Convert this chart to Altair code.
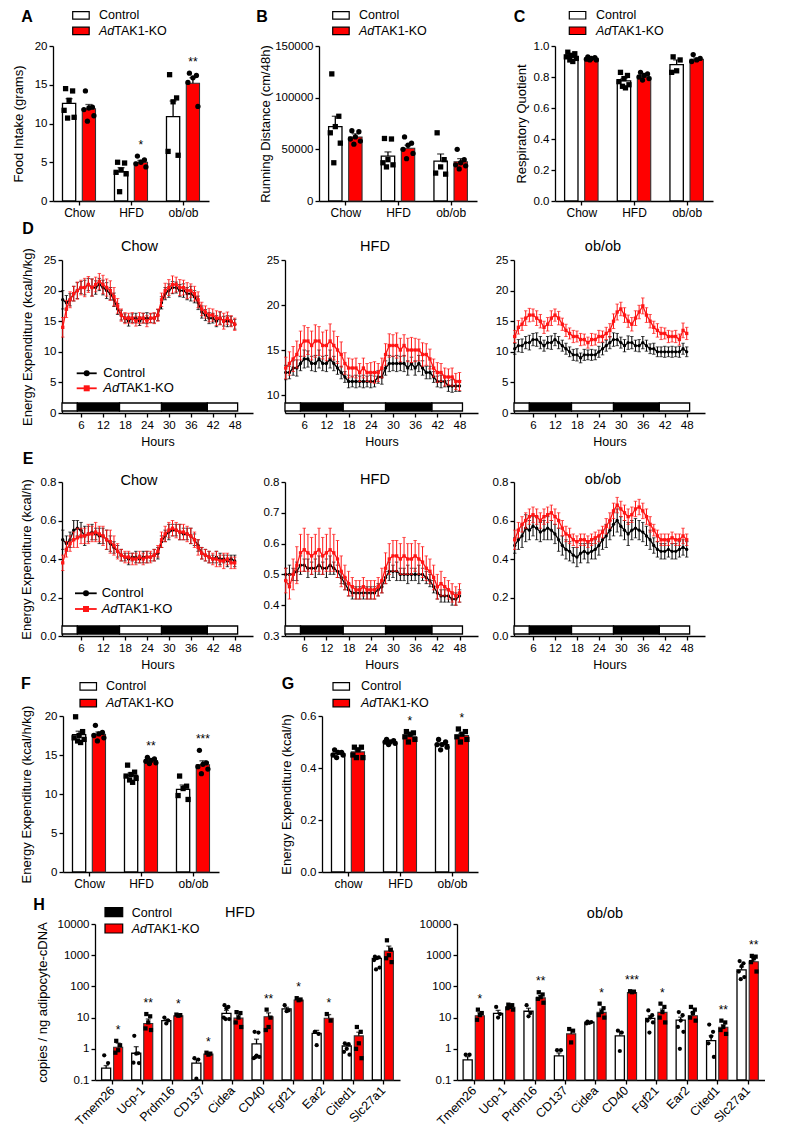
import altair as alt
import pandas as pd

FONT = "Liberation Sans"
RED = "#ff0000"
LRED = "#ff1414"

# ------------------------------------------------------------------ data
DIETS = ["Chow", "HFD", "ob/ob"]
DIETS_G = ["chow", "HFD", "ob/ob"]

# A  food intake (grams)
A_ctrl_mean = [12.6, 3.8, 10.9]
A_ctrl_sem = [0.6, 0.5, 2.0]
A_ko_mean = [11.9, 5.0, 15.2]
A_ko_sem = [0.55, 0.25, 0.7]
A_ctrl_pts = [[14.5, 14.2, 13.0, 11.7, 10.8, 10.7], [5.0, 4.9, 4.0, 3.7, 3.5, 1.2], [16.3, 13.3, 12.8, 6.4, 5.9]]
A_ko_pts = [[14.2, 12.1, 12.0, 11.8, 11.0, 10.3], [5.8, 5.3, 5.0, 4.8, 4.4], [16.5, 16.2, 15.9, 15.3, 12.2]]
A_stars = ["", "*", "**"]

# B  running distance (cm/48h)
B_ctrl_mean = [72000, 43500, 38500]
B_ctrl_sem = [10000, 4000, 7000]
B_ko_mean = [62000, 51000, 38000]
B_ko_sem = [3000, 3000, 3000]
B_ctrl_pts = [[123000, 82000, 72000, 66000, 56000, 37000], [60500, 60000, 40000, 37000, 35000, 33000],
              [66000, 40000, 33000, 27000, 26000]]
B_ko_pts = [[68000, 67000, 62000, 60000, 58000, 55000], [62000, 56000, 54000, 50000, 46000, 41000],
            [50000, 40000, 37000, 35000, 34000, 31000]]
B_stars = ["", "", ""]

# C  respiratory quotient
C_ctrl_mean = [0.93, 0.775, 0.88]
C_ctrl_sem = [0.01, 0.015, 0.03]
C_ko_mean = [0.92, 0.80, 0.915]
C_ko_sem = [0.005, 0.008, 0.008]
C_ctrl_pts = [[0.96, 0.95, 0.94, 0.93, 0.92, 0.91, 0.90], [0.83, 0.81, 0.79, 0.77, 0.75, 0.74, 0.73],
              [0.93, 0.91, 0.84, 0.83]]
C_ko_pts = [[0.93, 0.925, 0.92, 0.915, 0.91, 0.91], [0.83, 0.82, 0.81, 0.80, 0.79, 0.78], [0.945, 0.92, 0.91, 0.90]]
C_stars = ["", "", ""]

# F  energy expenditure (kcal/h/kg)
F_ctrl_mean = [17.6, 12.4, 10.6]
F_ctrl_sem = [0.45, 0.3, 0.55]
F_ko_mean = [17.65, 14.3, 13.75]
F_ko_sem = [0.3, 0.15, 0.5]
F_ctrl_pts = [[19.9, 18.0, 17.5, 17.2, 17.0, 16.8, 16.6], [13.7, 12.8, 12.5, 12.3, 12.0, 11.8, 11.5],
              [12.3, 11.0, 10.7, 9.8, 9.3]]
F_ko_pts = [[18.8, 17.9, 17.7, 17.5, 17.2, 16.8], [14.7, 14.5, 14.3, 14.2, 14.0, 13.9],
            [15.6, 14.0, 13.8, 13.5, 13.2, 12.6]]
F_stars = ["", "**", "***"]

# G  energy expenditure (kcal/h)
G_ctrl_mean = [0.455, 0.50, 0.49]
G_ctrl_sem = [0.004, 0.003, 0.006]
G_ko_mean = [0.462, 0.52, 0.525]
G_ko_sem = [0.007, 0.006, 0.008]
G_ctrl_pts = [[0.47, 0.46, 0.46, 0.45, 0.45, 0.44], [0.51, 0.505, 0.50, 0.50, 0.495, 0.49],
              [0.51, 0.50, 0.49, 0.49, 0.48, 0.47]]
G_ko_pts = [[0.48, 0.48, 0.47, 0.45, 0.44, 0.44], [0.54, 0.535, 0.53, 0.52, 0.51, 0.50],
            [0.55, 0.54, 0.53, 0.52, 0.51, 0.50]]
G_stars = ["", "*", "*"]

# D / E  time courses (hourly means and SEM)
HOURS = list(range(1, 49))
LD_START = [0.8, 5.0, 16.5, 28.0, 40.5]
LD_END = [5.0, 16.5, 28.0, 40.5, 48.8]
LD_DARK = [0, 1, 0, 1, 0]

D_chow_ctrl = [18.5, 18.0, 18.5, 19.5, 20.0, 20.5, 20.5, 21.0, 20.5, 20.5, 21.0, 20.5, 20.0, 19.5, 18.5, 17.0,
               16.0, 15.5, 15.0, 15.5, 15.5, 15.0, 15.5, 15.5, 15.5, 15.5, 16.0, 18.0, 19.5, 20.0, 20.5, 20.5,
               20.0, 20.0, 19.5, 19.5, 19.0, 18.0, 16.5, 16.0, 15.5, 15.5, 15.0, 15.5, 15.0, 15.0, 15.0, 14.5]
D_chow_ctrl_sem = [1.5, 1.2, 1.0, 1.2, 1.3, 1.0, 1.2, 1.0, 1.4, 1.1, 1.0, 1.2, 1.3, 1.0, 1.1, 0.9, 0.8, 0.7,
                   0.8, 0.7, 0.8, 0.7, 0.8, 0.9, 0.7, 0.8, 0.9, 1.0, 1.0, 1.1, 1.0, 0.9, 1.0, 1.1, 1.0, 1.2,
                   1.0, 1.1, 1.0, 0.9, 0.9, 0.8, 0.9, 1.0, 0.8, 0.9, 0.8, 0.8]
D_chow_ko = [14.0, 17.0, 18.5, 19.5, 20.0, 20.5, 20.5, 21.0, 20.5, 21.0, 21.5, 21.0, 20.5, 20.0, 19.0, 17.5,
             16.0, 15.5, 15.5, 15.5, 15.0, 15.5, 15.5, 15.0, 15.5, 15.5, 16.0, 18.5, 20.0, 20.5, 21.0, 21.0,
             20.5, 20.5, 20.0, 20.0, 19.5, 18.5, 17.0, 16.5, 16.0, 16.0, 15.5, 15.5, 15.0, 15.5, 15.0, 14.5]
D_chow_ko_sem = [1.6, 1.4, 1.3, 1.2, 1.4, 1.2, 1.5, 1.3, 1.4, 1.2, 1.3, 1.5, 1.4, 1.6, 1.5, 1.2, 1.0, 0.9,
                 0.8, 0.9, 0.8, 0.9, 0.8, 0.9, 0.8, 0.9, 1.0, 1.1, 1.2, 1.3, 1.4, 1.2, 1.3, 1.2, 1.3, 1.1,
                 1.2, 1.3, 1.1, 1.0, 1.1, 1.0, 1.2, 1.1, 1.3, 1.0, 0.9, 1.0]

D_hfd_ctrl = [12.5, 12.5, 13.0, 13.0, 13.5, 14.0, 14.0, 13.5, 13.5, 14.0, 13.5, 13.5, 14.0, 13.5, 13.0, 12.5,
              12.0, 11.5, 11.5, 11.5, 11.5, 11.5, 11.5, 11.5, 11.5, 12.0, 12.0, 13.0, 13.5, 13.5, 13.5, 13.5,
              13.5, 13.0, 13.5, 13.0, 13.5, 13.0, 12.5, 12.5, 12.0, 11.5, 11.5, 11.5, 11.0, 11.0, 11.0, 11.0]
D_hfd_ctrl_sem = [0.8, 0.7, 0.8, 0.9, 0.8, 1.0, 0.9, 0.8, 0.9, 1.0, 0.8, 0.9, 1.0, 0.8, 0.7, 0.7, 0.6, 0.7,
                  0.6, 0.7, 0.6, 0.7, 0.6, 0.7, 0.6, 0.7, 0.8, 0.8, 0.9, 0.8, 0.9, 0.8, 0.9, 0.8, 0.7, 0.8,
                  0.9, 0.8, 0.7, 0.7, 0.6, 0.6, 0.7, 0.6, 0.6, 0.7, 0.6, 0.6]
D_hfd_ko = [13.0, 13.5, 14.0, 14.5, 15.5, 16.0, 16.0, 15.5, 16.0, 16.0, 15.5, 15.5, 16.0, 15.5, 15.0, 14.5,
            13.5, 13.0, 13.0, 13.0, 12.5, 13.0, 12.5, 12.5, 12.5, 12.5, 13.0, 14.5, 15.5, 15.5, 15.5, 15.0,
            15.5, 15.0, 15.0, 15.0, 15.0, 14.5, 14.5, 14.0, 13.0, 12.5, 12.5, 12.0, 12.0, 12.0, 11.5, 11.5]
D_hfd_ko_sem = [1.2, 1.3, 1.4, 1.5, 1.6, 1.7, 1.5, 1.6, 1.8, 1.6, 1.5, 1.7, 1.9, 1.6, 1.5, 1.4, 1.2, 1.1,
                1.0, 1.1, 1.0, 1.1, 1.0, 1.1, 1.2, 1.0, 1.1, 1.2, 1.3, 1.2, 1.4, 1.3, 1.2, 1.3, 1.4, 1.3,
                1.2, 1.3, 1.2, 1.1, 1.0, 1.1, 1.0, 1.0, 0.9, 1.0, 0.9, 1.0]

D_ob_ctrl = [10.5, 11.0, 11.0, 11.5, 11.5, 12.0, 12.0, 11.5, 11.0, 11.5, 11.5, 12.0, 11.5, 11.0, 10.5, 10.0,
             9.5, 9.5, 9.0, 9.5, 9.5, 9.5, 9.5, 10.0, 10.5, 11.0, 11.5, 12.0, 12.0, 11.5, 11.0, 11.5,
             11.5, 11.0, 11.0, 11.5, 11.0, 10.5, 10.5, 10.0, 10.0, 10.0, 10.0, 10.0, 10.0, 10.0, 10.5, 10.0]
D_ob_ctrl_sem = [0.9, 1.0, 1.1, 1.0, 1.2, 1.0, 1.1, 1.0, 0.9, 1.0, 1.1, 1.0, 1.0, 0.9, 0.9, 0.8, 0.9, 1.0,
                 0.8, 0.9, 0.8, 0.9, 0.8, 0.9, 1.0, 0.9, 1.0, 1.1, 1.0, 0.9, 1.0, 1.1, 1.0, 0.9, 1.0, 1.0,
                 0.9, 0.8, 0.9, 0.8, 0.8, 0.9, 0.8, 0.9, 0.8, 0.9, 0.9, 0.8]
D_ob_ko = [12.5, 14.0, 14.5, 15.5, 16.0, 16.0, 15.5, 15.0, 14.0, 14.5, 15.5, 16.0, 15.5, 14.5, 13.5, 13.0,
           12.5, 12.5, 12.0, 12.0, 11.5, 12.0, 12.0, 12.5, 12.5, 13.0, 13.5, 15.0, 16.5, 17.0, 16.0, 15.0,
           14.5, 15.5, 16.5, 17.5, 16.0, 15.0, 14.0, 13.5, 13.0, 13.0, 12.5, 12.5, 12.5, 12.0, 13.5, 13.0]
D_ob_ko_sem = [1.0, 1.1, 1.0, 1.2, 1.1, 1.0, 1.2, 1.1, 1.0, 1.1, 1.2, 1.0, 1.1, 1.0, 1.0, 0.9, 1.0, 0.9,
               1.0, 0.9, 0.9, 1.0, 0.9, 1.0, 0.9, 1.0, 1.1, 1.2, 1.3, 1.1, 1.2, 1.0, 1.1, 1.2, 1.1, 1.3,
               1.2, 1.1, 1.0, 1.1, 1.0, 0.9, 1.0, 0.9, 1.0, 0.9, 1.2, 1.0]

E_chow_ctrl = [0.50, 0.48, 0.50, 0.55, 0.56, 0.55, 0.52, 0.53, 0.54, 0.53, 0.52, 0.52, 0.50, 0.48, 0.46, 0.44,
               0.42, 0.41, 0.40, 0.41, 0.41, 0.40, 0.41, 0.41, 0.41, 0.42, 0.43, 0.49, 0.52, 0.54, 0.55, 0.55,
               0.54, 0.53, 0.53, 0.52, 0.50, 0.47, 0.43, 0.42, 0.41, 0.40, 0.41, 0.40, 0.40, 0.39, 0.40, 0.39]
E_chow_ctrl_sem = [0.05, 0.04, 0.04, 0.05, 0.04, 0.04, 0.05, 0.04, 0.04, 0.03, 0.04, 0.04, 0.05, 0.04, 0.03,
                   0.03, 0.03, 0.02, 0.03, 0.02, 0.03, 0.02, 0.03, 0.03, 0.02, 0.03, 0.03, 0.03, 0.03, 0.04,
                   0.03, 0.03, 0.04, 0.03, 0.03, 0.04, 0.03, 0.03, 0.03, 0.03, 0.03, 0.02, 0.03, 0.03, 0.02,
                   0.03, 0.02, 0.03]
E_chow_ko = [0.38, 0.45, 0.48, 0.50, 0.51, 0.52, 0.52, 0.53, 0.53, 0.54, 0.53, 0.52, 0.50, 0.49, 0.47, 0.44,
             0.42, 0.41, 0.41, 0.40, 0.40, 0.41, 0.40, 0.41, 0.41, 0.42, 0.44, 0.50, 0.53, 0.55, 0.56, 0.55,
             0.54, 0.54, 0.53, 0.52, 0.50, 0.46, 0.43, 0.42, 0.41, 0.40, 0.40, 0.39, 0.39, 0.40, 0.38, 0.38]
E_chow_ko_sem = [0.04, 0.04, 0.04, 0.04, 0.05, 0.04, 0.04, 0.05, 0.04, 0.05, 0.04, 0.05, 0.05, 0.06, 0.05,
                 0.04, 0.03, 0.03, 0.03, 0.03, 0.03, 0.03, 0.03, 0.03, 0.03, 0.03, 0.03, 0.04, 0.04, 0.04,
                 0.04, 0.04, 0.04, 0.04, 0.04, 0.04, 0.04, 0.04, 0.03, 0.03, 0.03, 0.03, 0.04, 0.03, 0.04,
                 0.03, 0.03, 0.03]

E_hfd_ctrl = [0.50, 0.50, 0.50, 0.51, 0.53, 0.53, 0.52, 0.52, 0.52, 0.53, 0.52, 0.52, 0.53, 0.52, 0.51, 0.49,
              0.47, 0.45, 0.44, 0.44, 0.44, 0.44, 0.44, 0.44, 0.44, 0.45, 0.46, 0.49, 0.51, 0.51, 0.51, 0.50,
              0.50, 0.50, 0.50, 0.50, 0.50, 0.50, 0.49, 0.48, 0.46, 0.44, 0.43, 0.43, 0.43, 0.42, 0.42, 0.43]
E_hfd_ctrl_sem = [0.02, 0.03, 0.02, 0.03, 0.03, 0.02, 0.03, 0.02, 0.03, 0.03, 0.02, 0.03, 0.03, 0.02, 0.02,
                  0.02, 0.02, 0.02, 0.02, 0.02, 0.02, 0.02, 0.02, 0.02, 0.02, 0.02, 0.02, 0.02, 0.03, 0.02,
                  0.03, 0.02, 0.02, 0.03, 0.02, 0.02, 0.03, 0.02, 0.02, 0.02, 0.02, 0.02, 0.02, 0.02, 0.02,
                  0.02, 0.02, 0.02]
E_hfd_ko = [0.48, 0.46, 0.50, 0.53, 0.57, 0.58, 0.57, 0.56, 0.57, 0.58, 0.56, 0.57, 0.58, 0.57, 0.55, 0.51,
            0.49, 0.47, 0.46, 0.45, 0.45, 0.46, 0.45, 0.45, 0.45, 0.46, 0.48, 0.52, 0.55, 0.56, 0.56, 0.55,
            0.56, 0.55, 0.55, 0.56, 0.55, 0.54, 0.52, 0.51, 0.49, 0.46, 0.47, 0.46, 0.45, 0.44, 0.43, 0.44]
E_hfd_ko_sem = [0.04, 0.04, 0.05, 0.06, 0.06, 0.07, 0.06, 0.06, 0.06, 0.07, 0.06, 0.06, 0.07, 0.06, 0.06,
                0.05, 0.04, 0.04, 0.03, 0.03, 0.03, 0.03, 0.03, 0.03, 0.03, 0.03, 0.04, 0.05, 0.05, 0.05,
                0.05, 0.05, 0.06, 0.05, 0.05, 0.05, 0.05, 0.05, 0.04, 0.04, 0.04, 0.04, 0.04, 0.03, 0.03,
                0.03, 0.03, 0.03]

E_ob_ctrl = [0.47, 0.50, 0.52, 0.56, 0.55, 0.57, 0.56, 0.54, 0.55, 0.56, 0.55, 0.53, 0.50, 0.47, 0.45, 0.44,
             0.42, 0.41, 0.43, 0.44, 0.43, 0.44, 0.45, 0.47, 0.50, 0.52, 0.55, 0.58, 0.60, 0.57, 0.55, 0.53,
             0.55, 0.56, 0.55, 0.54, 0.52, 0.50, 0.47, 0.45, 0.44, 0.44, 0.45, 0.44, 0.44, 0.45, 0.46, 0.45]
E_ob_ctrl_sem = [0.04, 0.05, 0.06, 0.07, 0.05, 0.05, 0.06, 0.05, 0.05, 0.06, 0.05, 0.05, 0.06, 0.05, 0.05,
                 0.05, 0.04, 0.05, 0.05, 0.04, 0.05, 0.04, 0.05, 0.05, 0.05, 0.06, 0.05, 0.06, 0.06, 0.05,
                 0.05, 0.06, 0.05, 0.05, 0.05, 0.05, 0.05, 0.05, 0.04, 0.04, 0.04, 0.04, 0.04, 0.04, 0.04,
                 0.04, 0.04, 0.04]
E_ob_ko = [0.50, 0.55, 0.58, 0.60, 0.62, 0.63, 0.62, 0.60, 0.62, 0.63, 0.64, 0.62, 0.60, 0.56, 0.53, 0.52,
           0.50, 0.49, 0.50, 0.50, 0.49, 0.50, 0.51, 0.52, 0.54, 0.57, 0.60, 0.65, 0.68, 0.66, 0.64, 0.62,
           0.63, 0.66, 0.67, 0.65, 0.62, 0.58, 0.55, 0.52, 0.50, 0.50, 0.50, 0.51, 0.50, 0.50, 0.52, 0.50]
E_ob_ko_sem = [0.05, 0.04, 0.04, 0.04, 0.04, 0.04, 0.04, 0.04, 0.04, 0.04, 0.04, 0.04, 0.04, 0.04, 0.04,
               0.04, 0.03, 0.03, 0.03, 0.03, 0.03, 0.03, 0.03, 0.03, 0.03, 0.04, 0.04, 0.04, 0.04, 0.04,
               0.04, 0.04, 0.04, 0.04, 0.04, 0.04, 0.04, 0.04, 0.03, 0.03, 0.03, 0.03, 0.03, 0.03, 0.03,
               0.03, 0.04, 0.03]

# H  gene expression (copies / ng adipocyte-cDNA)
GENES = ["Tmem26", "Ucp-1", "Prdm16", "CD137", "Cidea", "CD40", "Fgf21", "Ear2", "Cited1", "Slc27a1"]
H_hfd_ctrl_mean = [0.24, 0.72, 8.0, 0.35, 13.6, 1.43, 18.9, 3.1, 1.23, 790]
H_hfd_ctrl_sem = [0.05, 0.45, 1.0, 0.1, 3.5, 0.6, 2.5, 0.8, 0.2, 90]
H_hfd_ko_mean = [1.12, 6.5, 11.5, 0.68, 9.6, 10.7, 36.7, 9.5, 2.6, 1360]
H_hfd_ko_sem = [0.4, 2.5, 0.5, 0.05, 2.5, 3.5, 2.5, 3.0, 0.8, 600]
H_hfd_ctrl_pts = [[0.62, 0.35], [2.6, 0.72, 0.7, 0.36, 0.35], [10, 8, 6.5], [0.5, 0.45, 0.11],
                  [25, 22, 20, 10, 9, 9], [3.5, 3.3, 0.6, 0.5, 0.55, 0.55], [25, 17, 16], [3.5, 3.0, 1.3],
                  [1.5, 1.4, 1.0, 0.8, 0.65], [900, 850, 800, 700, 400, 350]]
H_hfd_ko_pts = [[1.8, 1.3, 0.9, 0.75], [13, 11, 7, 4.5, 4], [12.5, 12, 11.5], [0.75, 0.7, 0.65],
                [15, 14, 10, 7, 5], [18, 10, 5, 4], [42, 38, 36], [13, 8], [5, 3.5, 1.5, 1.0, 0.5],
                [3000, 1500, 1000, 800, 600]]
H_hfd_stars = ["*", "**", "*", "*", "", "**", "*", "*", "", ""]

H_ob_ctrl_mean = [0.44, 13.6, 16, 0.59, 7.1, 2.6, 9.5, 8.3, 1.82, 340]
H_ob_ctrl_sem = [0.12, 3.5, 4, 0.15, 0.3, 1.0, 2.0, 2.0, 0.8, 80]
H_ob_ko_mean = [11.5, 21.5, 43, 3.0, 14.7, 63, 14.7, 11.5, 4.9, 620]
H_ob_ko_sem = [3.0, 1.5, 8, 0.9, 4.0, 3, 4.0, 3.0, 1.0, 150]
H_ob_ctrl_pts = [[0.65, 0.65], [22, 13, 10], [25, 14, 11], [0.9, 0.9], [7.5, 7.2, 6.8, 6.5], [3.8, 3.3, 0.85],
                 [17, 12, 10, 8, 7, 3.3], [15, 12, 8, 5, 3.5, 1.0], [6, 3.5, 2.5, 1.5, 0.55],
                 [650, 550, 450, 300, 200, 170]]
H_ob_ko_pts = [[18, 14, 12, 8.5], [26, 25, 22, 20, 18], [65, 55, 45, 40, 30], [4.3, 3.8, 1.6],
               [28, 20, 15, 12, 10], [70, 68, 65], [28, 22, 15, 10, 7], [22, 18, 14, 10, 8], [8, 7, 5, 4, 3],
               [950, 900, 800, 600, 300]]
H_ob_stars = ["*", "", "**", "", "*", "***", "*", "", "**", "**"]


# ------------------------------------------------------------------ helpers
def one():
    return pd.DataFrame({"k": [0]})


def text_mark(s, x, y, size=12, weight="normal", style="normal", align="left", baseline="middle"):
    return alt.Chart(one()).mark_text(text=s, font=FONT, fontSize=size, fontWeight=weight, fontStyle=style,
                                      align=align, baseline=baseline, color="black").encode(
        x=alt.value(x), y=alt.value(y))


def letter(s, x, y):
    return text_mark(s, x, y, 16, weight="bold", align="center")


def rect_mark(x, y, w, h, fill, stroke, sw=1.2):
    return alt.Chart(one()).mark_rect(fill=fill, stroke=stroke, strokeWidth=sw).encode(
        x=alt.value(x), x2=alt.value(x + w), y=alt.value(y), y2=alt.value(y + h))


def ko_label(x, y, size):
    return [text_mark("Ad", x, y, size, style="italic"), text_mark("TAK1-KO", x + 1.223 * size, y, size)]


def bar_legend(bx, tx, b1, b2, t1, t2, size=12.5, ctrl_fill="white", bw=16.5, bh=7.5):
    out = [rect_mark(bx, b1, bw, bh, ctrl_fill, "black"), rect_mark(bx, b2, bw, bh, RED, "black"),
           text_mark("Control", tx, t1, size)]
    return out + ko_label(tx, t2, size)


def ts_legend(lx1, lx2, mx, tx, y1, y2, size=13):
    out = []
    for y, col, shp in [(y1, "black", "circle"), (y2, LRED, "square")]:
        out.append(alt.Chart(one()).mark_rule(color=col, strokeWidth=1.8).encode(
            x=alt.value(lx1), x2=alt.value(lx2), y=alt.value(y)))
        out.append(alt.Chart(one()).mark_point(shape=shp, filled=True, size=36, color=col, opacity=1).encode(
            x=alt.value(mx), y=alt.value(y)))
    out.append(text_mark("Control", tx, y1, size))
    return out + ko_label(tx, y2, size)


def spacer(w, h, top=0):
    return alt.Chart(one()).mark_rule(strokeOpacity=0, opacity=0).encode(
        x=alt.value(0), y=alt.value(-top), y2=alt.value(0 if top else 1)).properties(width=w, height=h)


JIT = [-3.5, 3.5, 0.0, -5.0, 5.0, -1.5, 1.5]


def bar_panel(cats, cm, cs, km, ks, cp, kp, stars, w, h, ydom, yvals, yfmt, ytitle, title_x,
              xdom=None, half=0.3175, inner=0.0635, log=False, shapes=("square", "circle"),
              jit=1.0, psize=28, cap=7, label_angle=0, extra=()):
    n = len(cats)
    if xdom is None:
        xdom = [-0.5, n - 0.5]
    ppu = w / (xdom[1] - xdom[0])
    bars, pts, st = [], [], []
    for i in range(n):
        cx = i - (half + inner) / 2
        kx = i + (half + inner) / 2
        bars.append(dict(grp="c", xl=i - half, xr=i - inner, xc=cx, mean=cm[i], hi=cm[i] + cs[i]))
        bars.append(dict(grp="k", xl=i + inner, xr=i + half, xc=kx, mean=km[i], hi=km[i] + ks[i]))
        for j, v in enumerate(cp[i]):
            pts.append(dict(grp="c", x=cx + JIT[j % 7] * jit / ppu, v=v))
        for j, v in enumerate(kp[i]):
            pts.append(dict(grp="k", x=kx + JIT[j % 7] * jit / ppu, v=v))
        if stars[i]:
            st.append(dict(x=kx, v=max(max(kp[i]), km[i] + ks[i]), s=stars[i]))
    bars = pd.DataFrame(bars)
    pts = pd.DataFrame(pts)
    lab = "[" + ",".join("'%s'" % c for c in cats) + "][round(datum.value)]"
    xs = alt.Scale(domain=xdom, nice=False, zero=False)
    if label_angle:
        xa = alt.Axis(title=None, values=list(range(n)), labelExpr=lab, labelAngle=label_angle,
                      labelAlign="right", labelBaseline="middle", labelPadding=4, labelFontSize=12.5)
    else:
        xa = alt.Axis(title=None, values=list(range(n)), labelExpr=lab, labelAngle=0, labelFontSize=12)
    ys = alt.Scale(domain=ydom, nice=False, zero=False, type="log" if log else "linear")
    if ytitle:
        ya = alt.Axis(values=yvals, format=yfmt, title=ytitle, titleX=title_x, titleY=h / 2, titleAngle=270,
                      titleAlign="center", titleBaseline="middle")
    else:
        ya = alt.Axis(values=yvals, format=yfmt, title=None)

    def X(f):
        return alt.X(f, type="quantitative", scale=xs, axis=xa)

    def Y(f):
        return alt.Y(f, type="quantitative", scale=ys, axis=ya)

    b = alt.Chart(bars)
    layers = [
        b.transform_filter("datum.grp == 'c'").mark_rect(fill="white", stroke="black", strokeWidth=1.3).encode(
            x=X("xl"), x2="xr", y=Y("mean"), y2=alt.datum(ydom[0])),
        b.transform_filter("datum.grp == 'k'").mark_rect(fill=RED, stroke="#333333", strokeWidth=1.1).encode(
            x=X("xl"), x2="xr", y=Y("mean"), y2=alt.datum(ydom[0])),
        b.mark_rule(color="black", strokeWidth=1.3).encode(x=X("xc"), y=Y("mean"), y2="hi"),
        b.mark_tick(color="black", orient="horizontal", size=cap, thickness=1.3).encode(x=X("xc"), y=Y("hi")),
    ]
    p = alt.Chart(pts)
    for g, shp in zip(["c", "k"], shapes):
        layers.append(p.transform_filter("datum.grp == '%s'" % g).mark_point(
            shape=shp, filled=True, size=psize, color="black", opacity=1).encode(x=X("x"), y=Y("v")))
    if st:
        layers.append(alt.Chart(pd.DataFrame(st)).mark_text(
            font=FONT, fontSize=12, baseline="bottom", align="center", dy=-4, color="black").encode(
            x=X("x"), y=Y("v"), text="s:N"))
    layers += list(extra)
    return alt.layer(*layers).properties(width=w, height=h)


XDOM = [0.8, 53.0]


def ts_panel(ctrl, csem, ko, ksem, w, h, ydom, yvals, yfmt, ytitle, title_x, title, tpos, extra=()):
    xs = alt.Scale(domain=XDOM, nice=False, zero=False)
    xa = alt.Axis(values=[6, 12, 18, 24, 30, 36, 42, 48], title="Hours", titlePadding=5, titleFontSize=12.5)
    ys = alt.Scale(domain=ydom, nice=False, zero=False)
    if ytitle:
        ya = alt.Axis(values=yvals, format=yfmt, title=ytitle, titleX=title_x, titleY=h / 2, titleAngle=270,
                      titleAlign="center", titleBaseline="middle")
    else:
        ya = alt.Axis(values=yvals, format=yfmt, title=None)

    def X(f):
        return alt.X(f, type="quantitative", scale=xs, axis=xa)

    def Y(f):
        return alt.Y(f, type="quantitative", scale=ys, axis=ya)

    ld = alt.Chart(pd.DataFrame({"s": LD_START, "e": LD_END, "d": LD_DARK}))
    layers = []
    for dark, fill in [(0, "white"), (1, "black")]:
        layers.append(ld.transform_filter("datum.d == %d" % dark).mark_rect(
            fill=fill, stroke="black", strokeWidth=1.3).encode(
            x=X("s"), x2="e", y=alt.value(h - 10), y2=alt.value(h - 2)))
    for vals, sems, col, shp in [(ctrl, csem, "black", "circle"), (ko, ksem, LRED, "square")]:
        df = pd.DataFrame({"hour": HOURS, "val": vals,
                           "lo": [v - s for v, s in zip(vals, sems)],
                           "hi": [v + s for v, s in zip(vals, sems)]})
        c = alt.Chart(df)
        layers += [
            c.mark_rule(color=col, strokeWidth=1).encode(x=X("hour"), y=Y("lo"), y2="hi"),
            c.mark_tick(color=col, orient="horizontal", size=3.5, thickness=1).encode(x=X("hour"), y=Y("hi")),
            c.mark_tick(color=col, orient="horizontal", size=3.5, thickness=1).encode(x=X("hour"), y=Y("lo")),
            c.mark_line(color=col, strokeWidth=1.3).encode(x=X("hour"), y=Y("val")),
            c.mark_point(shape=shp, filled=True, size=11, color=col, opacity=1).encode(x=X("hour"), y=Y("val")),
        ]
    layers.append(text_mark(title, tpos[0], tpos[1], 14.5, align="center"))
    layers += list(extra)
    return alt.layer(*layers).properties(width=w, height=h)


# ------------------------------------------------------------------ panels
pA = bar_panel(DIETS, A_ctrl_mean, A_ctrl_sem, A_ko_mean, A_ko_sem, A_ctrl_pts, A_ko_pts, A_stars,
               156, 155, [0, 20], [0, 5, 10, 15, 20], "d", "Food Intake (grams)", -35,
               extra=bar_legend(19.7, 46, -34.3, -18.8, -31, -15) + [letter("A", -26, -29)])
pB = bar_panel(DIETS, B_ctrl_mean, B_ctrl_sem, B_ko_mean, B_ko_sem, B_ctrl_pts, B_ko_pts, B_stars,
               158, 155, [0, 150000], [0, 50000, 100000, 150000], "d", "Running Distance (cm/48h)", -53.5,
               extra=bar_legend(13.7, 40, -34.3, -18.8, -31, -15) + [letter("B", -57, -29)])
pC = bar_panel(DIETS, C_ctrl_mean, C_ctrl_sem, C_ko_mean, C_ko_sem, C_ctrl_pts, C_ko_pts, C_stars,
               158, 155, [0, 1.0], [0, 0.2, 0.4, 0.6, 0.8, 1.0], ".1f", "Respiratory Quotient", -34,
               extra=bar_legend(14.3, 41, -34.5, -19, -31, -15) + [letter("C", -35.5, -29)])

pDc = ts_panel(D_chow_ctrl, D_chow_ctrl_sem, D_chow_ko, D_chow_ko_sem, 191, 153, [0, 25],
               [0, 5, 10, 15, 20, 25], "d", "Energy Expenditure (kcal/h/kg)", -35, "Chow", (77.5, -13),
               extra=ts_legend(14.7, 34.7, 24.7, 41.3, 113.3, 128.3) + [letter("D", -34, -31)])
pDh = ts_panel(D_hfd_ctrl, D_hfd_ctrl_sem, D_hfd_ko, D_hfd_ko_sem, 193, 153, [8, 25],
               [10, 15, 20, 25], "d", None, 0, "HFD", (90, -13))
pDo = ts_panel(D_ob_ctrl, D_ob_ctrl_sem, D_ob_ko, D_ob_ko_sem, 191, 153, [0, 25],
               [0, 5, 10, 15, 20, 25], "d", None, 0, "ob/ob", (89, -13))

pEc = ts_panel(E_chow_ctrl, E_chow_ctrl_sem, E_chow_ko, E_chow_ko_sem, 191, 154, [0, 0.8],
               [0, 0.2, 0.4, 0.6, 0.8], ".1f", "Energy Expenditure (kcal/h)", -36, "Chow", (77, -1),
               extra=ts_legend(13, 34.7, 24, 39.7, 111.3, 127) + [letter("E", -34, -23)])
pEh = ts_panel(E_hfd_ctrl, E_hfd_ctrl_sem, E_hfd_ko, E_hfd_ko_sem, 193, 154, [0.3, 0.8],
               [0.3, 0.4, 0.5, 0.6, 0.7, 0.8], ".1f", None, 0, "HFD", (90, -2))
pEo = ts_panel(E_ob_ctrl, E_ob_ctrl_sem, E_ob_ko, E_ob_ko_sem, 191, 154, [0, 0.8],
               [0, 0.2, 0.4, 0.6, 0.8], ".1f", None, 0, "ob/ob", (89, -2))

pF = bar_panel(DIETS, F_ctrl_mean, F_ctrl_sem, F_ko_mean, F_ko_sem, F_ctrl_pts, F_ko_pts, F_stars,
               156, 156, [0, 20], [0, 5, 10, 15, 20], "d", "Energy Expenditure (kcal/h/kg)", -37,
               extra=bar_legend(17, 43, -33.3, -16.7, -30, -13.3) + [letter("F", -37, -32)])
pG = bar_panel(DIETS_G, G_ctrl_mean, G_ctrl_sem, G_ko_mean, G_ko_sem, G_ctrl_pts, G_ko_pts, G_stars,
               156, 156, [0, 0.6], [0, 0.2, 0.4, 0.6], ".1f", "Energy Expenditure (kcal/h)", -36,
               shapes=("circle", "square"),
               extra=bar_legend(11, 39, -33.3, -16.7, -30, -13.3) + [letter("G", -34, -32)])

pHh = bar_panel(GENES, H_hfd_ctrl_mean, H_hfd_ctrl_sem, H_hfd_ko_mean, H_hfd_ko_sem, H_hfd_ctrl_pts,
                H_hfd_ko_pts, H_hfd_stars, 305, 156, [0.1, 10000], [0.1, 1, 10, 100, 1000, 10000], "~g",
                "copies / ng adipocyte-cDNA", -53, xdom=[-0.57, 9.57], half=0.35, inner=0.05, log=True,
                shapes=("circle", "square"), jit=0.55, psize=18, cap=5, label_angle=315,
                extra=bar_legend(10, 36.7, -16.3, 0, -11.3, 5, ctrl_fill="black", bw=17.7, bh=9)
                + [text_mark("HFD", 145, -11, 14.5, align="center"), letter("H", -56, -19)])
pHo = bar_panel(GENES, H_ob_ctrl_mean, H_ob_ctrl_sem, H_ob_ko_mean, H_ob_ko_sem, H_ob_ctrl_pts,
                H_ob_ko_pts, H_ob_stars, 308, 156, [0.1, 10000], [0.1, 1, 10, 100, 1000, 10000], "~g",
                None, 0, xdom=[-0.55, 9.57], half=0.35, inner=0.05, log=True,
                shapes=("circle", "square"), jit=0.55, psize=18, cap=5, label_angle=315,
                extra=[text_mark("ob/ob", 148, -10, 14.5, align="center")])

# ------------------------------------------------------------------ layout
row1 = alt.hconcat(spacer(45, 174, 38), pA, spacer(110, 1), pB, spacer(78, 1), pC, spacing=0, bounds="flush")
rowD = alt.hconcat(spacer(54, 190, 40), pDc, spacer(32, 1), pDh, spacer(36, 1), pDo, spacing=0, bounds="flush")
rowE = alt.hconcat(spacer(54, 190, 32), pEc, spacer(32, 1), pEh, spacer(36, 1), pEo, spacing=0, bounds="flush")
rowF = alt.hconcat(spacer(55, 177, 44), pF, spacer(103, 1), pG, spacing=0, bounds="flush")
rowH = alt.hconcat(spacer(87, 201, 31), pHh, spacer(57, 1), pHo, spacing=0, bounds="flush")

chart = alt.vconcat(row1, rowD, rowE, rowF, rowH, spacing=0).properties(
    padding=0).configure_view(
    stroke=None).configure_axis(
    labelFont=FONT, titleFont=FONT, labelFontSize=11.5, titleFontSize=13, titleFontWeight="normal",
    labelColor="black", titleColor="black", domainColor="black", tickColor="black",
    domainWidth=1.3, tickWidth=1.3, tickSize=4, labelPadding=2, grid=False, labelOverlap=False,
    labelFlush=False)

chart.save("out.html", embed_options={"renderer": "svg", "actions": False})
